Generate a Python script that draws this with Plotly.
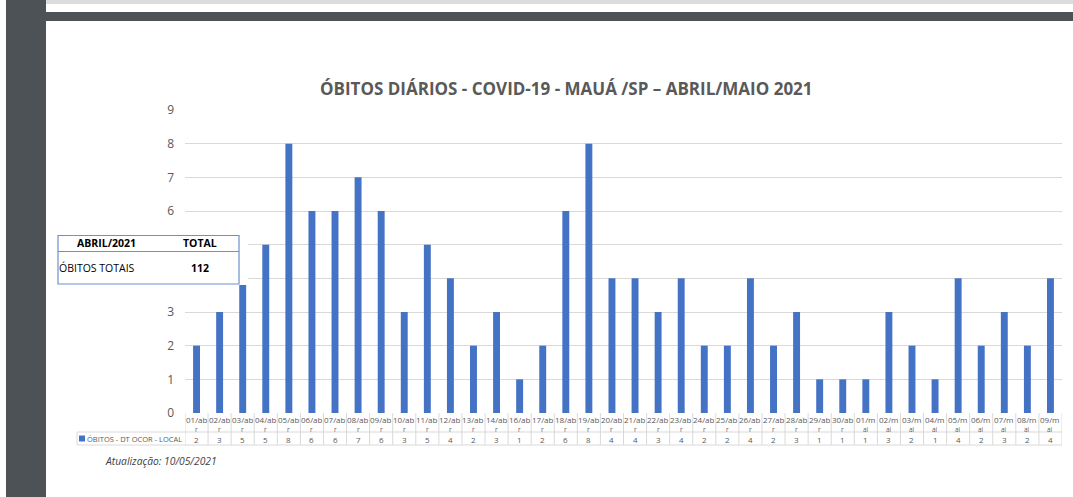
import plotly.graph_objects as go

# Data
dates = ['01/abr', '02/abr', '03/abr', '04/abr', '05/abr', '06/abr', '07/abr',
         '08/abr', '09/abr', '10/abr', '11/abr', '12/abr', '13/abr', '14/abr',
         '16/abr', '17/abr', '18/abr', '19/abr', '20/abr', '21/abr', '22/abr',
         '23/abr', '24/abr', '25/abr', '26/abr', '27/abr', '28/abr', '29/abr',
         '30/abr', '01/mai', '02/mai', '03/mai', '04/mai', '05/mai', '06/mai',
         '07/mai', '08/mai', '09/mai']
obitos = [2, 3, 5, 5, 8, 6, 6, 7, 6, 3, 5, 4, 2, 3, 1, 2, 6, 8, 4, 4, 3, 4,
          2, 2, 4, 2, 3, 1, 1, 1, 3, 2, 1, 4, 2, 3, 2, 4]
y_ticks = list(range(10))
series_name = 'ÓBITOS - DT OCOR - LOCAL'
box_header = ['ABRIL/2021', 'TOTAL']
box_row = ['ÓBITOS TOTAIS', '112']
title = 'ÓBITOS DIÁRIOS - COVID-19 - MAUÁ /SP – ABRIL/MAIO 2021'
update_note = 'Atualização: 10/05/2021'

W, H = 1073, 497
L, R, T, B = 185, 11, 110, 84
PW, PH = W - L - R, H - T - B

BAR = '#4472C4'
TXT = '#595959'
GRID = '#d9d9d9'
FONT = 'Open Sans'


def xp(px):
    """pixel x -> paper x"""
    return (px - L) / PW


def yp(py):
    """pixel y -> paper y"""
    return (H - B - py) / PH


def split_label(d):
    """Excel-style broken category label, as two lines"""
    if d.endswith('abr'):
        return d[:-1], 'r'
    return d[:-2], 'ai'


fig = go.Figure(go.Bar(
    x=dates, y=obitos,
    marker=dict(color=BAR, line=dict(width=0)),
    name=series_name,
))

shapes = []
annotations = []

# page background bits (dark side strip and top band)
shapes.append(dict(type='rect', xref='paper', yref='paper', x0=xp(6), x1=xp(46),
                   y0=yp(H + 2), y1=yp(-2), fillcolor='#4d5257', line=dict(width=0), layer='below'))
shapes.append(dict(type='rect', xref='paper', yref='paper', x0=xp(46), x1=xp(W + 2),
                   y0=yp(21), y1=yp(12), fillcolor='#4d5257', line=dict(width=0), layer='below'))
shapes.append(dict(type='rect', xref='paper', yref='paper', x0=xp(46), x1=xp(W + 2),
                   y0=yp(4), y1=yp(-2), fillcolor='#dcdcdc', line=dict(width=0), layer='below'))

# data table below the axis
row_top, row_mid, row_bot = 413, 432, 445
n = len(dates)
for i in range(n + 1):
    shapes.append(dict(type='line', xref='x', yref='paper', x0=i - 0.5, x1=i - 0.5,
                       y0=yp(row_top), y1=yp(row_bot), line=dict(color=GRID, width=1)))
shapes.append(dict(type='line', xref='paper', yref='paper', x0=xp(77), x1=1,
                   y0=yp(row_mid), y1=yp(row_mid), line=dict(color=GRID, width=1)))
shapes.append(dict(type='line', xref='paper', yref='paper', x0=xp(77), x1=1,
                   y0=yp(row_bot), y1=yp(row_bot), line=dict(color=GRID, width=1)))
shapes.append(dict(type='line', xref='paper', yref='paper', x0=xp(77), x1=xp(77),
                   y0=yp(row_mid), y1=yp(row_bot), line=dict(color=GRID, width=1)))
# legend key
shapes.append(dict(type='rect', xref='paper', yref='paper', x0=xp(79), x1=xp(85),
                   y0=yp(441.5), y1=yp(435.5), fillcolor=BAR, line=dict(width=0)))
annotations.append(dict(xref='paper', yref='paper', x=xp(86), y=yp(438.5), text=series_name,
                        showarrow=False, xanchor='left', yanchor='middle', borderpad=0,
                        font=dict(family=FONT, size=7.5, color=TXT)))

for d, v in zip(dates, obitos):
    top, bottom = split_label(d)
    annotations.append(dict(xref='x', yref='paper', x=d, y=yp(419), text=top,
                            showarrow=False, xanchor='center', yanchor='middle', borderpad=0,
                            font=dict(family=FONT, size=8, color=TXT)))
    annotations.append(dict(xref='x', yref='paper', x=d, y=yp(429), text=bottom,
                            showarrow=False, xanchor='center', yanchor='middle', borderpad=0,
                            font=dict(family=FONT, size=6.5, color=TXT)))
    annotations.append(dict(xref='x', yref='paper', x=d, y=yp(439), text=str(v),
                            showarrow=False, xanchor='center', yanchor='middle', borderpad=0,
                            font=dict(family=FONT, size=8, color=TXT)))

# title
annotations.append(dict(xref='paper', yref='paper', x=xp(566), y=yp(88), text='<b>' + title + '</b>',
                        showarrow=False, xanchor='center', yanchor='middle',
                        font=dict(family=FONT, size=17, color=TXT)))

# update note
annotations.append(dict(xref='paper', yref='paper', x=xp(103), y=yp(461), text='<i>' + update_note + '</i>',
                        showarrow=False, xanchor='left', yanchor='middle',
                        font=dict(family=FONT, size=10.3, color='#404040')))

# overlay summary box
shapes.append(dict(type='rect', xref='paper', yref='paper', x0=xp(58), x1=xp(248),
                   y0=yp(285), y1=yp(235), fillcolor='white', line=dict(width=0), layer='above'))
shapes.append(dict(type='rect', xref='paper', yref='paper', x0=xp(58), x1=xp(239),
                   y0=yp(284), y1=yp(235.5), fillcolor='rgba(0,0,0,0)',
                   line=dict(color='#6f8fcf', width=1.2), layer='above'))
shapes.append(dict(type='line', xref='paper', yref='paper', x0=xp(58), x1=xp(239),
                   y0=yp(251.5), y1=yp(251.5), line=dict(color='#6f8fcf', width=1.2), layer='above'))
box_font = dict(family=FONT, size=10.5, color='black')
annotations.append(dict(xref='paper', yref='paper', x=xp(106), y=yp(243.5), text='<b>' + box_header[0] + '</b>',
                        showarrow=False, xanchor='center', yanchor='middle', font=box_font))
annotations.append(dict(xref='paper', yref='paper', x=xp(200), y=yp(243.5), text='<b>' + box_header[1] + '</b>',
                        showarrow=False, xanchor='center', yanchor='middle', font=box_font))
annotations.append(dict(xref='paper', yref='paper', x=xp(57), y=yp(268), text=box_row[0],
                        showarrow=False, xanchor='left', yanchor='middle', font=box_font))
annotations.append(dict(xref='paper', yref='paper', x=xp(200), y=yp(268), text='<b>' + box_row[1] + '</b>',
                        showarrow=False, xanchor='center', yanchor='middle', font=box_font))

fig.update_layout(
    width=W, height=H,
    margin=dict(l=L, r=R, t=T, b=B),
    paper_bgcolor='white',
    plot_bgcolor='white',
    showlegend=False,
    bargap=0.7,
    shapes=shapes,
    annotations=annotations,
    font=dict(family=FONT, color=TXT),
    xaxis=dict(type='category', showticklabels=False, showgrid=False, zeroline=False,
               showline=False, ticks='', range=[-0.5, n - 0.5]),
    yaxis=dict(range=[0, 9], tickvals=y_ticks, showgrid=True, gridcolor=GRID, gridwidth=1,
               zeroline=False, showline=False, ticks='', ticklabelstandoff=10,
               tickfont=dict(family=FONT, size=12, color=TXT)),
)

# page body has a default margin; drop it so the figure sits at the window origin
fig.write_html("out.html", config={'displayModeBar': False},
               post_script="document.body.style.margin='0';")
